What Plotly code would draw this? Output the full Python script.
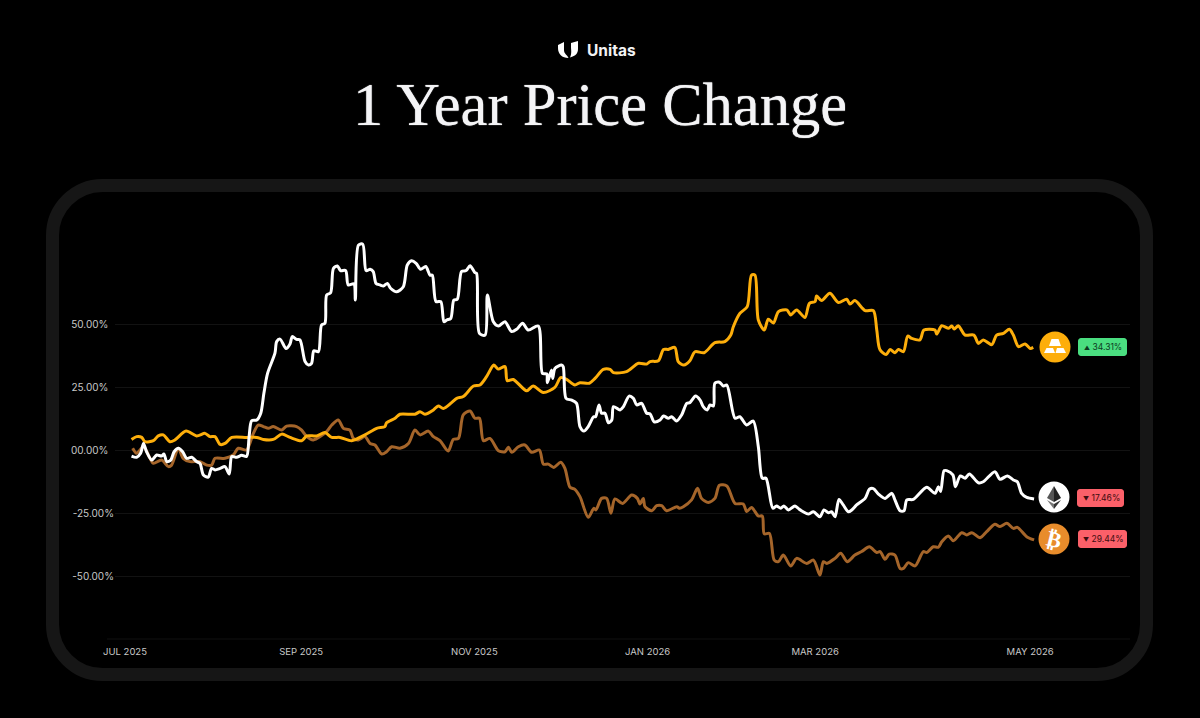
import pandas as pd
import plotly.graph_objects as go

# days since 1 Jul 2025, change in %
white_days = [2.3,4.1,5.5,6.5,7.6,9.4,10.6,11.2,12.9,13.7,14.7,16.1,17.3,18.8,20.3,21.7,23.5,25.2,26.4,27.6,29.3,30.5,31.7,33.5,35.2,36.7,37.6,39.3,41.1,42.8,43.7,44.6,46.4,47.8,48.9,50.2,52.8,53.4,54.6,56.7,58.1,58.9,60.4,61.6,63.4,64.6,65.7,66.5,68.1,69.2,70.4,71.0,72.4,73.4,74.8,75.9,77.7,78.6,80.6,81.1,82.2,83.7,84.9,86.3,87.4,88.4,89.8,91.0,92.4,93.5,95.7,98.0,99.4,100.9,102.5,104.1,105.9,107.4,108.2,109.5,111.2,112.3,113.3,114.7,115.8,117.0,118.5,120.1,121.5,123.2,123.8,124.8,126.8,127.6,129.7,131.5,133.8,136.1,137.9,140.0,142.0,145.5,147.0,148.5,148.7,150.2,150.6,151.4,153.7,154.3,155.3,157.3,159.0,160.2,161.6,163.1,165.0,165.7,166.9,167.8,169.0,170.2,171.4,172.0,174.3,175.5,177.5,179.0,180.2,181.9,183.7,184.9,186.3,188.4,189.6,191.3,192.5,194.2,196.0,197.8,198.9,200.9,202.5,203.6,205.0,206.0,207.2,207.7,209.3,210.7,211.9,214.8,216.5,218.9,221.2,223.0,224.4,225.7,228.1,229.4,230.9,232.0,233.6,235.9,237.4,238.8,240.6,242.4,244.7,246.1,247.7,248.8,250.0,251.4,252.9,254.7,255.9,257.6,260.6,262.1,263.5,265.3,267.6,270.0,271.1,272.9,274.3,275.3,277.6,282.3,285.2,286.4,287.2,288.4,289.3,291.5,292.4,294.1,295.8,297.3,300.5,302.2,306.3,308.1,310.7,312.8,314.2,315.7,317.5,320.1]
white_vals = [-2.4,-2.9,-1.3,2.6,-0.7,-4.0,-2.6,-2.0,-2.4,-1.6,-4.6,-4.0,-0.7,0.7,-0.7,-3.3,-2.9,-4.6,-5.3,-9.9,-10.8,-7.3,-7.9,-7.3,-6.6,-9.5,-2.6,-2.9,-2.1,-2.6,5.3,11.6,11.9,14.6,22.5,30.4,38.4,43.0,44.0,40.3,42.1,45.0,43.9,43.7,35.1,33.7,34.4,39.4,39.0,49.6,50.3,61.5,62.4,72.1,73.0,71.2,71.2,65.5,65.9,59.5,81.3,81.7,71.2,71.7,70.8,66.1,65.5,65.1,66.1,64.2,62.8,64.8,73.4,75.1,74.1,71.7,72.8,69.4,69.4,58.9,58.9,50.9,51.6,52.2,59.5,59.8,70.8,71.2,73.1,70.4,70.1,46.3,45.6,61.5,50.9,49.2,50.9,47.0,47.9,50.3,47.6,49.2,30.4,30.2,26.7,31.7,28.4,32.4,33.7,33.1,20.5,19.8,18.5,9.3,7.5,9.3,13.2,13.2,17.9,14.6,14.6,10.8,11.9,17.2,15.9,17.2,21.4,20.5,17.9,18.5,14.6,14.3,11.2,11.9,13.5,12.6,13.2,11.5,13.9,18.5,18.8,21.4,19.8,17.2,15.9,17.9,17.5,26.5,26.9,25.4,25.8,12.6,13.2,9.9,11.5,1.3,-11.2,-11.2,-23.1,-22.2,-23.1,-22.2,-23.8,-22.2,-23.5,-24.5,-25.4,-24.5,-26.5,-23.8,-24.9,-24.5,-26.5,-19.6,-21.8,-24.5,-23.8,-21.8,-19.2,-15.6,-15.3,-17.5,-19.2,-17.2,-19.8,-24.1,-24.1,-19.8,-19.6,-14.8,-17.2,-14.6,-16.5,-8.2,-8.2,-9.9,-14.6,-10.3,-11.2,-9.5,-13.0,-12.6,-8.6,-11.6,-10.3,-11.9,-12.6,-17.2,-18.8,-19.4]

gold_days = [2.3,4.1,5.9,7.0,10.0,11.7,13.5,15.8,17.6,21.5,25.2,28.2,29.9,31.7,33.5,35.2,37.6,42.8,46.4,48.7,52.2,55.2,58.1,62.2,64.0,67.5,70.4,72.8,75.7,79.8,84.5,88.6,91.5,92.1,95.1,96.8,102.1,103.9,105.6,108.6,110.3,112.1,115.0,116.8,119.1,122.7,125.0,127.3,129.9,131.4,133.8,134.6,136.7,141.4,143.7,147.3,151.4,153.4,155.5,158.4,160.2,163.5,165.5,168.4,170.8,172.0,176.6,180.8,183.7,184.9,187.8,189.6,191.3,193.6,194.8,196.8,198.9,200.7,203.9,207.7,211.2,213.3,214.2,216.5,219.1,220.6,221.8,223.0,225.1,226.5,228.3,230.1,233.0,234.4,236.5,239.4,241.0,243.0,243.5,245.3,248.2,251.2,254.1,255.3,257.0,260.6,263.5,264.7,265.8,268.0,269.4,271.1,272.3,274.1,275.6,277.0,279.9,281.3,285.2,285.8,287.6,290.0,291.1,292.0,293.4,295.8,298.9,300.5,302.2,305.2,306.9,309.3,311.4,312.8,314.6,316.9,318.7,319.8]
gold_vals = [4.2,5.3,5.0,3.3,3.7,5.6,6.0,3.3,4.0,7.5,5.6,6.6,5.3,5.3,2.2,2.6,5.0,5.0,5.0,4.2,4.2,6.3,5.0,3.7,5.6,5.6,6.9,5.0,5.0,3.7,6.0,8.6,9.3,10.8,12.6,14.2,14.2,15.2,14.2,15.9,17.5,16.5,18.8,20.5,21.2,25.4,25.8,29.1,33.7,32.1,33.1,27.5,28.0,23.5,25.4,22.8,24.9,28.7,28.0,25.8,26.7,26.5,28.4,32.0,32.0,30.7,31.1,34.4,34.1,35.1,35.4,39.9,39.9,40.7,35.1,33.7,35.4,39.0,38.6,42.6,43.0,45.6,48.9,54.2,56.9,69.4,69.4,51.6,47.6,51.9,50.4,54.9,55.6,53.6,55.6,52.6,58.2,58.9,61.1,59.3,62.2,58.5,59.8,57.9,59.3,55.3,55.3,47.6,39.9,37.9,39.9,38.6,39.9,39.0,45.2,44.3,43.7,47.6,47.6,46.0,49.3,48.3,49.2,48.0,49.3,45.6,45.6,42.3,43.7,41.8,45.6,46.3,47.9,45.6,41.0,42.1,40.3,40.7]

btc_days = [2.7,4.1,6.5,8.8,10.0,12.9,15.3,16.4,18.8,20.5,22.9,26.4,28.8,30.5,31.7,35.2,38.1,39.9,42.8,45.2,46.9,48.7,50.5,52.2,55.2,56.9,60.4,62.2,64.0,66.3,71.0,72.8,75.1,76.9,79.2,80.4,82.2,84.5,86.3,88.0,90.4,92.1,93.9,96.8,99.8,102.1,103.9,106.8,108.6,110.9,113.8,115.6,117.4,119.1,121.5,123.2,124.8,126.2,128.5,131.5,133.8,135.0,136.2,138.5,140.8,143.2,145.9,147.3,149.0,151.0,153.4,154.9,156.7,158.4,160.2,163.1,165.1,165.8,167.8,169.6,171.1,172.5,175.2,178.4,180.4,181.3,182.5,183.1,185.5,187.2,189.0,190.7,194.3,195.2,196.6,199.5,201.6,203.0,205.4,207.7,209.3,211.9,214.8,217.7,218.9,220.6,223.0,224.4,225.1,226.9,228.6,230.1,231.8,234.4,236.5,240.0,242.4,244.7,245.9,247.1,250.0,252.0,254.3,257.0,259.4,262.1,264.7,265.9,267.6,269.1,271.1,272.9,274.1,275.8,278.2,281.1,282.3,284.6,286.4,287.6,289.9,291.7,294.6,296.4,298.2,301.1,303.4,306.3,308.1,310.5,312.8,314.2,317.5,320.1]
btc_vals = [0.7,-1.3,1.3,-3.3,-5.3,-4.0,-6.6,-6.0,0.7,-3.3,-4.6,-4.6,-6.0,-6.0,-3.3,-3.3,-2.0,0.7,0.0,6.6,9.9,9.3,8.6,9.3,7.9,9.5,9.3,7.9,5.3,4.0,7.3,9.9,11.9,8.6,7.9,4.6,4.0,5.3,2.6,2.0,-1.6,-0.7,1.3,0.7,2.6,7.9,6.0,7.5,5.3,3.7,-0.4,4.2,4.6,13.9,15.5,12.6,12.6,3.7,4.6,-0.3,-0.7,1.1,-0.9,1.3,2.0,-0.9,0.0,-5.6,-5.6,-6.9,-4.9,-7.3,-14.8,-15.6,-18.5,-26.7,-23.1,-23.8,-19.2,-19.2,-25.1,-19.4,-21.2,-17.9,-19.2,-21.4,-19.2,-22.5,-24.1,-22.1,-22.1,-24.1,-22.5,-23.1,-22.5,-19.8,-15.2,-19.2,-20.8,-19.2,-14.0,-14.3,-21.2,-21.4,-24.4,-22.8,-26.2,-26.2,-33.3,-33.1,-43.7,-44.3,-41.7,-46.0,-43.0,-45.0,-43.7,-49.6,-44.3,-45.0,-43.0,-41.0,-44.3,-41.7,-40.3,-38.4,-40.7,-40.3,-43.4,-41.3,-41.7,-47.0,-47.0,-44.7,-46.0,-40.3,-40.7,-38.4,-38.6,-36.4,-34.1,-36.0,-32.8,-33.7,-32.8,-34.8,-32.4,-29.5,-30.4,-29.1,-31.1,-30.7,-34.4,-35.7]

y_ticks = [50, 25, 0, -25, -50]
y_labels = ["50.00%\u00a0\u00a0", "25.00%\u00a0\u00a0", "00.00%\u00a0\u00a0", "-25.00%", "-50.00%"]
x_tick_days = [0, 62, 123, 184, 243, 318.7]
x_labels = ["JUL 2025", "SEP 2025", "NOV 2025", "JAN 2026", "MAR 2026", "MAY 2026"]

W, H = 1200, 718
LEFT, RIGHT, TOP, BOTTOM = 115, 70, 220, 79
BASE = pd.Timestamp("2025-07-01")


def to_dates(days):
    return (BASE + pd.to_timedelta(days, unit="D")).strftime("%Y-%m-%d %H:%M").tolist()


# shapes and labels outside the plot area are placed in paper units
def px(x):
    return (x - LEFT) / (W - LEFT - RIGHT)


def py(y):
    return 1 - (y - TOP) / (H - TOP - BOTTOM)


def rounded(x0, y0, x1, y1, r):
    k = r * 0.45
    p = [
        f"M{px(x0 + r)},{py(y0)}", f"L{px(x1 - r)},{py(y0)}",
        f"C{px(x1 - k)},{py(y0)} {px(x1)},{py(y0 + k)} {px(x1)},{py(y0 + r)}",
        f"L{px(x1)},{py(y1 - r)}",
        f"C{px(x1)},{py(y1 - k)} {px(x1 - k)},{py(y1)} {px(x1 - r)},{py(y1)}",
        f"L{px(x0 + r)},{py(y1)}",
        f"C{px(x0 + k)},{py(y1)} {px(x0)},{py(y1 - k)} {px(x0)},{py(y1 - r)}",
        f"L{px(x0)},{py(y0 + r)}",
        f"C{px(x0)},{py(y0 + k)} {px(x0 + k)},{py(y0)} {px(x0 + r)},{py(y0)}", "Z",
    ]
    return " ".join(p)


def poly(points):
    return "M" + " L".join(f"{px(a)},{py(b)}" for a, b in points) + " Z"


def path_shape(path, fill, line=None, width=0, layer="above"):
    return dict(type="path", xref="paper", yref="paper", path=path, fillcolor=fill,
                line=dict(color=line or fill, width=width), layer=layer)


def circle(cx, cy, r, fill):
    return dict(type="circle", xref="paper", yref="paper", x0=px(cx - r), x1=px(cx + r),
                y0=py(cy + r), y1=py(cy - r), fillcolor=fill, line=dict(width=0), layer="above")


def label(x, y, text, size, color, font="Inter", shadow=None, **kw):
    f = dict(family=font, size=size, color=color)
    if shadow:
        f["shadow"] = shadow
    return dict(xref="paper", yref="paper", x=px(x), y=py(y), text=text, showarrow=False,
                xanchor="center", yanchor="middle", font=f, **kw)


fig = go.Figure()
for days, vals, color in [(btc_days, btc_vals, "#a5652a"), (gold_days, gold_vals, "#fdae0b"), (white_days, white_vals, "#ffffff")]:
    fig.add_trace(go.Scatter(x=to_dates(days), y=vals, mode="lines",
                             line=dict(color=color, width=3, shape="spline", smoothing=0.8)))

shapes = [
    # card border
    path_shape(rounded(52.5, 185.5, 1146.5, 674.5, 50), "rgba(0,0,0,0)", "#161616", 13, "below"),
    # bottom axis rule, a bit longer than the grid
    dict(type="line", xref="paper", yref="paper", x0=px(107), x1=1, y0=0, y1=0, line=dict(color="#101010", width=1), layer="below"),
    # gold
    circle(1055, 347, 15.5, "#fdae0b"),
    path_shape(poly([(1051.5, 339), (1058.5, 339), (1061, 346), (1049, 346)]), "#ffffff"),
    path_shape(poly([(1046.5, 348), (1053, 348), (1055, 353), (1044, 353)]), "#ffffff"),
    path_shape(poly([(1057, 348), (1063.5, 348), (1066, 353), (1055.5, 353)]), "#ffffff"),
    # eth
    circle(1054, 497, 15.5, "#ffffff"),
    path_shape(poly([(1054, 486), (1047, 498), (1054, 502)]), "#555555"),
    path_shape(poly([(1054, 486), (1061, 498), (1054, 502)]), "#222222"),
    path_shape(poly([(1047, 500), (1054, 504), (1054, 509)]), "#777777"),
    path_shape(poly([(1061, 500), (1054, 504), (1054, 509)]), "#333333"),
    # btc
    circle(1054, 539, 15.5, "#e88c2b"),
    # badges
    path_shape(rounded(1078, 338, 1127, 356, 3), "#4ade80"),
    path_shape(rounded(1077, 489, 1124, 507, 3), "#fb6069"),
    path_shape(rounded(1078, 530, 1127, 548, 3), "#fb6069"),
    # logo
    path_shape("M{},{} L{},{} L{},{} C{},{} {},{} {},{} C{},{} {},{} {},{} Z".format(
        px(558), py(45), px(564), py(42), px(564), py(50), px(564), py(54), px(567), py(54.5), px(568.5), py(58),
        px(562), py(58), px(558), py(54), px(558), py(48)), "#ffffff"),
    path_shape("M{},{} L{},{} L{},{} C{},{} {},{} {},{} C{},{} {},{} {},{} Z".format(
        px(571), py(43), px(578), py(41), px(578), py(49), px(578), py(53), px(576), py(56), px(570), py(57.5),
        px(572), py(53), px(571), py(50), px(571), py(47)), "#ffffff"),
]

badge_text = '<span style="font-size:6px">{}</span> {}'
annotations = [
    label(611, 50, "<b>Unitas</b>", 15.5, "#f2f2f4"),
    label(600, 104, "1 Year Price Change", 60.5, "#f4f4f6", font="Liberation Serif", shadow="0 0 1px #f4f4f6"),
    label(1103, 347, badge_text.format("▲", "34.31%"), 8.5, "#0d3b1f"),
    label(1101, 498, badge_text.format("▼", "17.46%"), 8.5, "#3d0d10"),
    label(1103, 539, badge_text.format("▼", "29.44%"), 8.5, "#3d0d10"),
    label(1054, 539, "<b>₿</b>", 22, "#ffffff", font="DejaVu Sans", textangle=14),
]

fig.update_layout(
    width=W, height=H, autosize=False,
    paper_bgcolor="#000000", plot_bgcolor="#000000",
    margin=dict(l=LEFT, r=RIGHT, t=TOP, b=BOTTOM),
    showlegend=False,
    shapes=shapes, annotations=annotations,
    font=dict(family="Inter", color="#c4c4c4"),
)
fig.update_xaxes(range=to_dates([-3.52, 353.87]), showgrid=False, zeroline=False, showline=False,
                 tickmode="array", tickvals=to_dates(x_tick_days), ticktext=x_labels,
                 ticks="", tickangle=0, ticklabelstandoff=5, tickfont=dict(size=9.5, color="#c8c8c8"))
fig.update_yaxes(range=[-75, 91.27], showgrid=True, gridcolor="#121212", gridwidth=1, zeroline=False, showline=False,
                 tickmode="array", tickvals=y_ticks, ticktext=y_labels,
                 ticks="", tickfont=dict(size=10, color="#c8c8c8"))

# the page's default body margin would push the chart 8px off
fig.write_html("out.html", config={"displayModeBar": False},
               post_script="document.body.style.margin='0';document.body.style.background='#000';")
